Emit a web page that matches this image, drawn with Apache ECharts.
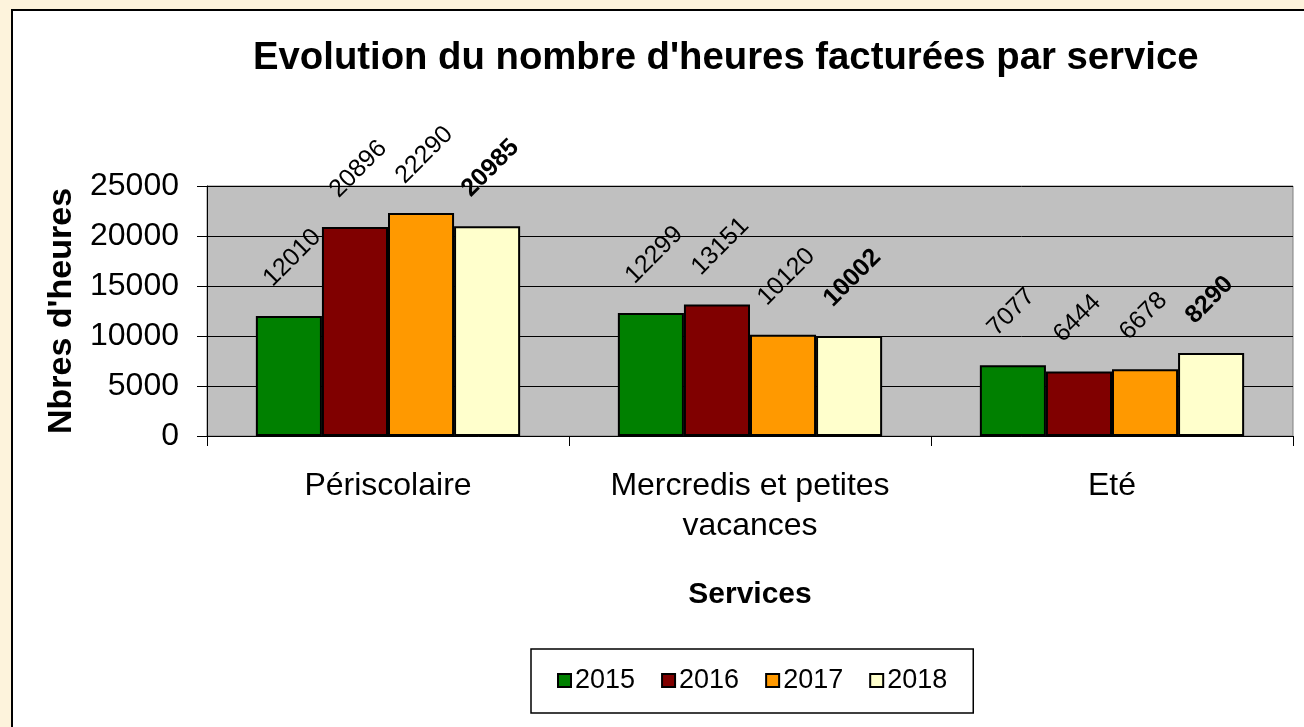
<!DOCTYPE html>
<html>
<head>
<meta charset="utf-8">
<script src="https://cdn.jsdelivr.net/npm/echarts@6/dist/echarts.min.js"></script>
<style>
html,body{margin:0;padding:0;background:#fdf3dc;}
#c{width:1304px;height:727px;}
</style>
</head>
<body>
<div id="c"></div>
<script>
const categories = ['Périscolaire', 'Mercredis et petites\nvacances', 'Eté'];
const years = ['2015', '2016', '2017', '2018'];
const v2015 = [12010, 12299, 7077];
const v2016 = [20896, 13151, 6444];
const v2017 = [22290, 10120, 6678];
const v2018 = [20985, 10002, 8290];
const yTicks = [0, 5000, 10000, 15000, 20000, 25000];
const colors = ['#008000', '#800000', '#ff9900', '#ffffcc'];
const seriesValues = [v2015, v2016, v2017, v2018];
const FONT = '"Liberation Sans", Arial, sans-serif';

const chart = echarts.init(document.getElementById('c'));
chart.setOption({
  animation: false,
  textStyle: { fontFamily: FONT, color: '#000' },
  graphic: [{
    type: 'rect', z: -10, silent: true,
    shape: { x: 12, y: 10, width: 1300, height: 730 },
    style: { fill: '#fff', stroke: '#000', lineWidth: 2 }
  }],
  title: {
    text: "Evolution du nombre d'heures facturées par service",
    left: 253, top: 39, padding: 0,
    textStyle: { fontFamily: FONT, fontSize: 38.3, fontWeight: 'bold', color: '#000' }
  },
  legend: {
    data: years,
    left: 531, top: 649,
    padding: [18, 26, 19, 26],
    itemGap: 26,
    itemWidth: 13, itemHeight: 13,
    icon: 'rect',
    borderColor: '#000', borderWidth: 1.5,
    backgroundColor: '#fff',
    itemStyle: { borderColor: '#000', borderWidth: 2 },
    textStyle: { fontFamily: FONT, fontSize: 27, color: '#000', padding: [0, 0, 0, -1] }
  },
  grid: {
    left: 207, right: 11, top: 186, bottom: 291,
    show: true, backgroundColor: '#c0c0c0', borderColor: '#808080', borderWidth: 1
  },
  xAxis: {
    type: 'category', data: categories,
    name: 'Services', nameLocation: 'middle', nameGap: 144,
    nameTextStyle: { fontFamily: FONT, fontSize: 30, fontWeight: 'bold', color: '#000' },
    axisLine: { lineStyle: { color: '#000', width: 1 } },
    axisTick: { show: true, length: 10, interval: 0, lineStyle: { color: '#000' } },
    axisLabel: { interval: 0, margin: 30, fontSize: 32, lineHeight: 40, color: '#000', fontFamily: FONT }
  },
  yAxis: {
    type: 'value', min: 0, max: 25000, interval: 5000,
    name: "Nbres d'heures", nameLocation: 'middle', nameGap: 119,
    nameTextStyle: { fontFamily: FONT, fontSize: 34, fontWeight: 'bold', color: '#000' },
    axisLine: { show: true, lineStyle: { color: '#000', width: 1 } },
    axisTick: { show: true, length: 10, lineStyle: { color: '#000' } },
    splitLine: { show: true, lineStyle: { color: '#000', width: 1 } },
    axisLabel: {
      margin: 28, fontSize: 32, color: '#000', fontFamily: FONT,
      formatter: v => String(v),
      customValues: yTicks
    }
  },
  series: years.map((y, i) => ({
    name: y,
    type: 'bar',
    data: seriesValues[i],
    barGap: '0%',
    barCategoryGap: '27%',
    itemStyle: { color: colors[i], borderColor: '#000', borderWidth: 2 },
    label: {
      show: true, position: 'top', rotate: 45, distance: 8,
      align: 'left', verticalAlign: 'middle',
      offset: [3, -33],
      fontFamily: FONT, fontSize: 25, color: '#000',
      fontWeight: i === 3 ? 'bold' : 'normal'
    }
  }))
});
</script>
</body>
</html>
